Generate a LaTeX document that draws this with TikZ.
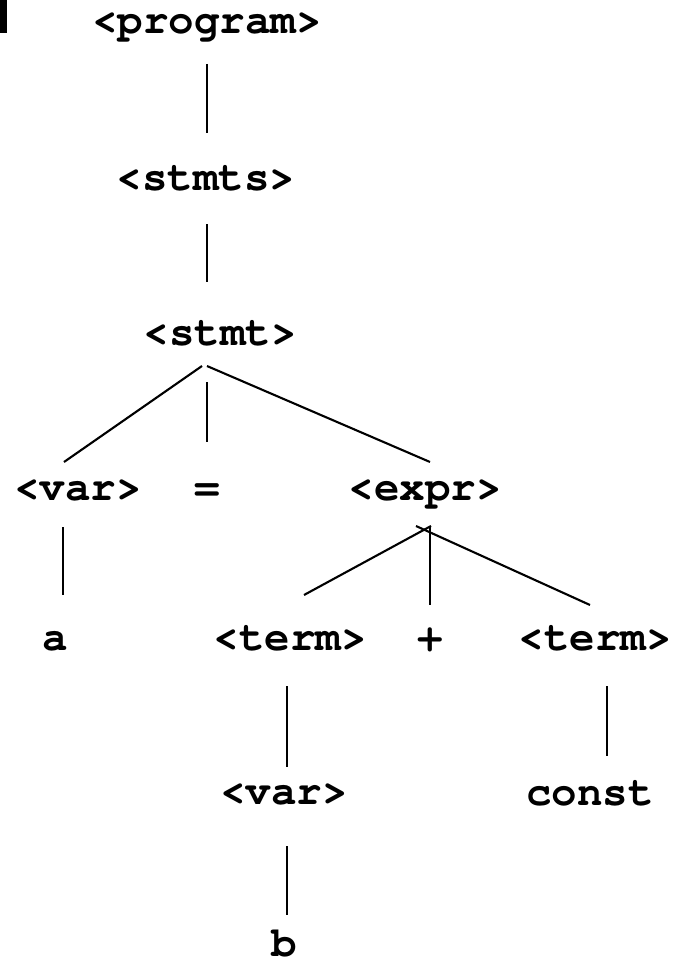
\documentclass[tikz,border=0pt]{standalone}
\usepackage{fontspec}
\setmonofont{texgyrecursor-regular.otf}[BoldFont=texgyrecursor-bold.otf]
\begin{document}
\begin{tikzpicture}[x=1pt,y=-1pt,
  lbl/.style={anchor=base,inner sep=0pt,font=\ttfamily\bfseries\fontsize{42.5}{42.5}\selectfont},
  edge/.style={line width=2.1pt,black}]
\useasboundingbox (0,0) rectangle (683,963);
\fill[black] (0,0) rectangle (7,33);
\node[lbl] (program) at (207,34) {<program>};
\node[lbl] (stmts) at (206,190) {<stmts>};
\node[lbl] (stmt) at (220,345) {<stmt>};
\node[lbl] (var1) at (78,500) {<var>};
\node[lbl] (eq) at (207,500) {=};
\node[lbl] (expr) at (425,500) {<expr>};
\node[lbl] (a) at (55,650) {a};
\node[lbl] (term1) at (290,650) {<term>};
\node[lbl] (plus) at (430,650) {+};
\node[lbl] (term2) at (595,650) {<term>};
\node[lbl] (var2) at (284,804) {<var>};
\node[lbl] (const) at (590,805) {const};
\node[lbl] (b) at (284,956) {b};
\draw[edge] ([shift={(0,30)}]program.base) -- ([shift={(1,-57)}]stmts.base);
\draw[edge] ([shift={(1,34)}]stmts.base) -- ([shift={(-13,-63)}]stmt.base);
\draw[edge] ([shift={(-18,21)}]stmt.base) -- ([shift={(-14,-38)}]var1.base);
\draw[edge] ([shift={(-13,37)}]stmt.base) -- ([shift={(0,-58)}]eq.base);
\draw[edge] ([shift={(-13,21)}]stmt.base) -- ([shift={(5,-38)}]expr.base);
\draw[edge] ([shift={(-15,27)}]var1.base) -- ([shift={(8,-55)}]a.base);
\draw[edge] ([shift={(6,26)}]expr.base) -- ([shift={(14,-55)}]term1.base);
\draw[edge] ([shift={(5,27)}]expr.base) -- ([shift={(0,-45)}]plus.base);
\draw[edge] ([shift={(-9,26)}]expr.base) -- ([shift={(-5,-45)}]term2.base);
\draw[edge] ([shift={(-3,36)}]term1.base) -- ([shift={(3,-37)}]var2.base);
\draw[edge] ([shift={(12,36)}]term2.base) -- ([shift={(17,-49)}]const.base);
\draw[edge] ([shift={(3,42)}]var2.base) -- ([shift={(3,-41)}]b.base);
\end{tikzpicture}
\end{document}
